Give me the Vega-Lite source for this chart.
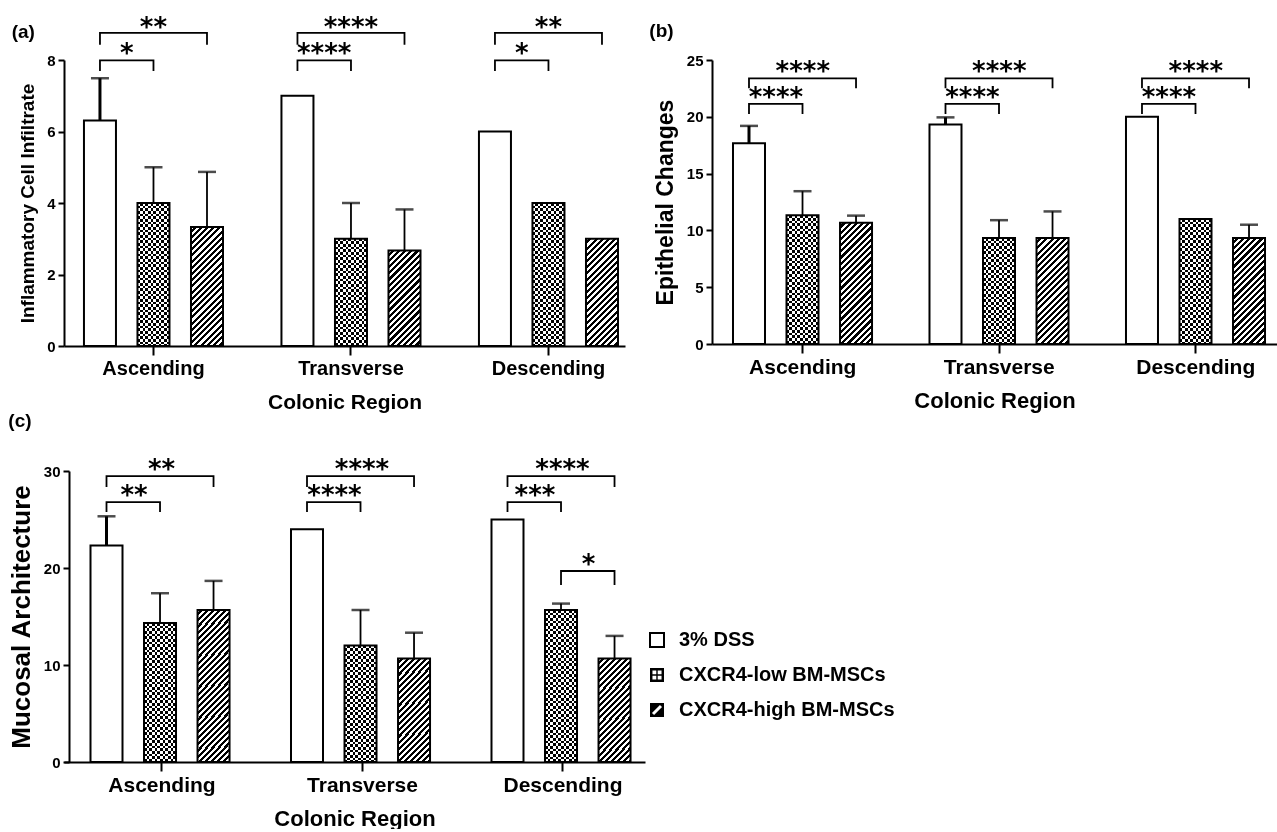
{
  "$schema": "https://vega.github.io/schema/vega-lite/v6.json",
  "padding": {"left": 8, "top": 14, "right": 5, "bottom": 0},
  "background": "white",
  "params": [
    {"name": "hStops", "value": [
      {"offset":0,"color":"#fff"},{"offset":0.016667,"color":"#fff"},{"offset":0.016667,"color":"rgba(255,255,255,0)"},{"offset":0.033333,"color":"rgba(255,255,255,0)"},
      {"offset":0.033333,"color":"#fff"},{"offset":0.05,"color":"#fff"},{"offset":0.05,"color":"rgba(255,255,255,0)"},{"offset":0.066667,"color":"rgba(255,255,255,0)"},
      {"offset":0.066667,"color":"#fff"},{"offset":0.083333,"color":"#fff"},{"offset":0.083333,"color":"rgba(255,255,255,0)"},{"offset":0.1,"color":"rgba(255,255,255,0)"},
      {"offset":0.1,"color":"#fff"},{"offset":0.116667,"color":"#fff"},{"offset":0.116667,"color":"rgba(255,255,255,0)"},{"offset":0.133333,"color":"rgba(255,255,255,0)"},
      {"offset":0.133333,"color":"#fff"},{"offset":0.15,"color":"#fff"},{"offset":0.15,"color":"rgba(255,255,255,0)"},{"offset":0.166667,"color":"rgba(255,255,255,0)"},
      {"offset":0.166667,"color":"#fff"},{"offset":0.183333,"color":"#fff"},{"offset":0.183333,"color":"rgba(255,255,255,0)"},{"offset":0.2,"color":"rgba(255,255,255,0)"},
      {"offset":0.2,"color":"#fff"},{"offset":0.216667,"color":"#fff"},{"offset":0.216667,"color":"rgba(255,255,255,0)"},{"offset":0.233333,"color":"rgba(255,255,255,0)"},
      {"offset":0.233333,"color":"#fff"},{"offset":0.25,"color":"#fff"},{"offset":0.25,"color":"rgba(255,255,255,0)"},{"offset":0.266667,"color":"rgba(255,255,255,0)"},
      {"offset":0.266667,"color":"#fff"},{"offset":0.283333,"color":"#fff"},{"offset":0.283333,"color":"rgba(255,255,255,0)"},{"offset":0.3,"color":"rgba(255,255,255,0)"},
      {"offset":0.3,"color":"#fff"},{"offset":0.316667,"color":"#fff"},{"offset":0.316667,"color":"rgba(255,255,255,0)"},{"offset":0.333333,"color":"rgba(255,255,255,0)"},
      {"offset":0.333333,"color":"#fff"},{"offset":0.35,"color":"#fff"},{"offset":0.35,"color":"rgba(255,255,255,0)"},{"offset":0.366667,"color":"rgba(255,255,255,0)"},
      {"offset":0.366667,"color":"#fff"},{"offset":0.383333,"color":"#fff"},{"offset":0.383333,"color":"rgba(255,255,255,0)"},{"offset":0.4,"color":"rgba(255,255,255,0)"},
      {"offset":0.4,"color":"#fff"},{"offset":0.416667,"color":"#fff"},{"offset":0.416667,"color":"rgba(255,255,255,0)"},{"offset":0.433333,"color":"rgba(255,255,255,0)"},
      {"offset":0.433333,"color":"#fff"},{"offset":0.45,"color":"#fff"},{"offset":0.45,"color":"rgba(255,255,255,0)"},{"offset":0.466667,"color":"rgba(255,255,255,0)"},
      {"offset":0.466667,"color":"#fff"},{"offset":0.483333,"color":"#fff"},{"offset":0.483333,"color":"rgba(255,255,255,0)"},{"offset":0.5,"color":"rgba(255,255,255,0)"},
      {"offset":0.5,"color":"#fff"},{"offset":0.516667,"color":"#fff"},{"offset":0.516667,"color":"rgba(255,255,255,0)"},{"offset":0.533333,"color":"rgba(255,255,255,0)"},
      {"offset":0.533333,"color":"#fff"},{"offset":0.55,"color":"#fff"},{"offset":0.55,"color":"rgba(255,255,255,0)"},{"offset":0.566667,"color":"rgba(255,255,255,0)"},
      {"offset":0.566667,"color":"#fff"},{"offset":0.583333,"color":"#fff"},{"offset":0.583333,"color":"rgba(255,255,255,0)"},{"offset":0.6,"color":"rgba(255,255,255,0)"},
      {"offset":0.6,"color":"#fff"},{"offset":0.616667,"color":"#fff"},{"offset":0.616667,"color":"rgba(255,255,255,0)"},{"offset":0.633333,"color":"rgba(255,255,255,0)"},
      {"offset":0.633333,"color":"#fff"},{"offset":0.65,"color":"#fff"},{"offset":0.65,"color":"rgba(255,255,255,0)"},{"offset":0.666667,"color":"rgba(255,255,255,0)"},
      {"offset":0.666667,"color":"#fff"},{"offset":0.683333,"color":"#fff"},{"offset":0.683333,"color":"rgba(255,255,255,0)"},{"offset":0.7,"color":"rgba(255,255,255,0)"},
      {"offset":0.7,"color":"#fff"},{"offset":0.716667,"color":"#fff"},{"offset":0.716667,"color":"rgba(255,255,255,0)"},{"offset":0.733333,"color":"rgba(255,255,255,0)"},
      {"offset":0.733333,"color":"#fff"},{"offset":0.75,"color":"#fff"},{"offset":0.75,"color":"rgba(255,255,255,0)"},{"offset":0.766667,"color":"rgba(255,255,255,0)"},
      {"offset":0.766667,"color":"#fff"},{"offset":0.783333,"color":"#fff"},{"offset":0.783333,"color":"rgba(255,255,255,0)"},{"offset":0.8,"color":"rgba(255,255,255,0)"},
      {"offset":0.8,"color":"#fff"},{"offset":0.816667,"color":"#fff"},{"offset":0.816667,"color":"rgba(255,255,255,0)"},{"offset":0.833333,"color":"rgba(255,255,255,0)"},
      {"offset":0.833333,"color":"#fff"},{"offset":0.85,"color":"#fff"},{"offset":0.85,"color":"rgba(255,255,255,0)"},{"offset":0.866667,"color":"rgba(255,255,255,0)"},
      {"offset":0.866667,"color":"#fff"},{"offset":0.883333,"color":"#fff"},{"offset":0.883333,"color":"rgba(255,255,255,0)"},{"offset":0.9,"color":"rgba(255,255,255,0)"},
      {"offset":0.9,"color":"#fff"},{"offset":0.916667,"color":"#fff"},{"offset":0.916667,"color":"rgba(255,255,255,0)"},{"offset":0.933333,"color":"rgba(255,255,255,0)"},
      {"offset":0.933333,"color":"#fff"},{"offset":0.95,"color":"#fff"},{"offset":0.95,"color":"rgba(255,255,255,0)"},{"offset":0.966667,"color":"rgba(255,255,255,0)"},
      {"offset":0.966667,"color":"#fff"},{"offset":0.983333,"color":"#fff"},{"offset":0.983333,"color":"rgba(255,255,255,0)"},{"offset":1,"color":"rgba(255,255,255,0)"}
    ]}
  ],
  "datasets": {
    "legend": [{"g":"3% DSS"},{"g":"CXCR4-low BM-MSCs"},{"g":"CXCR4-high BM-MSCs"}],
    "a_bars": [
      {"region":"Ascending","g":"3% DSS","v":6.31,"e":7.49},
      {"region":"Ascending","g":"CXCR4-low BM-MSCs","v":4.0,"e":5.0},
      {"region":"Ascending","g":"CXCR4-high BM-MSCs","v":3.33,"e":4.87},
      {"region":"Transverse","g":"3% DSS","v":7.0,"e":null},
      {"region":"Transverse","g":"CXCR4-low BM-MSCs","v":3.0,"e":4.0},
      {"region":"Transverse","g":"CXCR4-high BM-MSCs","v":2.67,"e":3.82},
      {"region":"Descending","g":"3% DSS","v":6.0,"e":null},
      {"region":"Descending","g":"CXCR4-low BM-MSCs","v":4.0,"e":null},
      {"region":"Descending","g":"CXCR4-high BM-MSCs","v":3.0,"e":null}
    ],
    "a_br": [
      {"id":"A1","region":"Ascending","g":"3% DSS","y":7.69,"s":0},{"id":"A1","region":"Ascending","g":"3% DSS","y":7.99,"s":1},{"id":"A1","region":"Ascending","g":"CXCR4-low BM-MSCs","y":7.99,"s":2},{"id":"A1","region":"Ascending","g":"CXCR4-low BM-MSCs","y":7.69,"s":3},
      {"id":"A2","region":"Ascending","g":"3% DSS","y":8.43,"s":0},{"id":"A2","region":"Ascending","g":"3% DSS","y":8.76,"s":1},{"id":"A2","region":"Ascending","g":"CXCR4-high BM-MSCs","y":8.76,"s":2},{"id":"A2","region":"Ascending","g":"CXCR4-high BM-MSCs","y":8.43,"s":3},
      {"id":"T1","region":"Transverse","g":"3% DSS","y":7.69,"s":0},{"id":"T1","region":"Transverse","g":"3% DSS","y":7.99,"s":1},{"id":"T1","region":"Transverse","g":"CXCR4-low BM-MSCs","y":7.99,"s":2},{"id":"T1","region":"Transverse","g":"CXCR4-low BM-MSCs","y":7.69,"s":3},
      {"id":"T2","region":"Transverse","g":"3% DSS","y":8.43,"s":0},{"id":"T2","region":"Transverse","g":"3% DSS","y":8.76,"s":1},{"id":"T2","region":"Transverse","g":"CXCR4-high BM-MSCs","y":8.76,"s":2},{"id":"T2","region":"Transverse","g":"CXCR4-high BM-MSCs","y":8.43,"s":3},
      {"id":"D1","region":"Descending","g":"3% DSS","y":7.69,"s":0},{"id":"D1","region":"Descending","g":"3% DSS","y":7.99,"s":1},{"id":"D1","region":"Descending","g":"CXCR4-low BM-MSCs","y":7.99,"s":2},{"id":"D1","region":"Descending","g":"CXCR4-low BM-MSCs","y":7.69,"s":3},
      {"id":"D2","region":"Descending","g":"3% DSS","y":8.43,"s":0},{"id":"D2","region":"Descending","g":"3% DSS","y":8.76,"s":1},{"id":"D2","region":"Descending","g":"CXCR4-high BM-MSCs","y":8.76,"s":2},{"id":"D2","region":"Descending","g":"CXCR4-high BM-MSCs","y":8.43,"s":3}
    ],
    "a_tx": [
      {"region":"Ascending","from":"3% DSS","to":"CXCR4-low BM-MSCs","y":8.34,"t":"*"},
      {"region":"Ascending","from":"3% DSS","to":"CXCR4-high BM-MSCs","y":9.09,"t":"**"},
      {"region":"Transverse","from":"3% DSS","to":"CXCR4-low BM-MSCs","y":8.34,"t":"****"},
      {"region":"Transverse","from":"3% DSS","to":"CXCR4-high BM-MSCs","y":9.09,"t":"****"},
      {"region":"Descending","from":"3% DSS","to":"CXCR4-low BM-MSCs","y":8.34,"t":"*"},
      {"region":"Descending","from":"3% DSS","to":"CXCR4-high BM-MSCs","y":9.09,"t":"**"}
    ],
    "b_bars": [
      {"region":"Ascending","g":"3% DSS","v":17.67,"e":19.2},
      {"region":"Ascending","g":"CXCR4-low BM-MSCs","v":11.33,"e":13.45},
      {"region":"Ascending","g":"CXCR4-high BM-MSCs","v":10.67,"e":11.3},
      {"region":"Transverse","g":"3% DSS","v":19.33,"e":19.95},
      {"region":"Transverse","g":"CXCR4-low BM-MSCs","v":9.33,"e":10.9},
      {"region":"Transverse","g":"CXCR4-high BM-MSCs","v":9.33,"e":11.67},
      {"region":"Descending","g":"3% DSS","v":20.0,"e":null},
      {"region":"Descending","g":"CXCR4-low BM-MSCs","v":11.0,"e":null},
      {"region":"Descending","g":"CXCR4-high BM-MSCs","v":9.33,"e":10.5}
    ],
    "b_br": [
      {"id":"A1","region":"Ascending","g":"3% DSS","y":20.25,"s":0},{"id":"A1","region":"Ascending","g":"3% DSS","y":21.13,"s":1},{"id":"A1","region":"Ascending","g":"CXCR4-low BM-MSCs","y":21.13,"s":2},{"id":"A1","region":"Ascending","g":"CXCR4-low BM-MSCs","y":20.25,"s":3},
      {"id":"A2","region":"Ascending","g":"3% DSS","y":22.51,"s":0},{"id":"A2","region":"Ascending","g":"3% DSS","y":23.39,"s":1},{"id":"A2","region":"Ascending","g":"CXCR4-high BM-MSCs","y":23.39,"s":2},{"id":"A2","region":"Ascending","g":"CXCR4-high BM-MSCs","y":22.51,"s":3},
      {"id":"T1","region":"Transverse","g":"3% DSS","y":20.25,"s":0},{"id":"T1","region":"Transverse","g":"3% DSS","y":21.13,"s":1},{"id":"T1","region":"Transverse","g":"CXCR4-low BM-MSCs","y":21.13,"s":2},{"id":"T1","region":"Transverse","g":"CXCR4-low BM-MSCs","y":20.25,"s":3},
      {"id":"T2","region":"Transverse","g":"3% DSS","y":22.51,"s":0},{"id":"T2","region":"Transverse","g":"3% DSS","y":23.39,"s":1},{"id":"T2","region":"Transverse","g":"CXCR4-high BM-MSCs","y":23.39,"s":2},{"id":"T2","region":"Transverse","g":"CXCR4-high BM-MSCs","y":22.51,"s":3},
      {"id":"D1","region":"Descending","g":"3% DSS","y":20.25,"s":0},{"id":"D1","region":"Descending","g":"3% DSS","y":21.13,"s":1},{"id":"D1","region":"Descending","g":"CXCR4-low BM-MSCs","y":21.13,"s":2},{"id":"D1","region":"Descending","g":"CXCR4-low BM-MSCs","y":20.25,"s":3},
      {"id":"D2","region":"Descending","g":"3% DSS","y":22.51,"s":0},{"id":"D2","region":"Descending","g":"3% DSS","y":23.39,"s":1},{"id":"D2","region":"Descending","g":"CXCR4-high BM-MSCs","y":23.39,"s":2},{"id":"D2","region":"Descending","g":"CXCR4-high BM-MSCs","y":22.51,"s":3}
    ],
    "b_tx": [
      {"region":"Ascending","from":"3% DSS","to":"CXCR4-low BM-MSCs","y":22.24,"t":"****"},
      {"region":"Ascending","from":"3% DSS","to":"CXCR4-high BM-MSCs","y":24.5,"t":"****"},
      {"region":"Transverse","from":"3% DSS","to":"CXCR4-low BM-MSCs","y":22.24,"t":"****"},
      {"region":"Transverse","from":"3% DSS","to":"CXCR4-high BM-MSCs","y":24.5,"t":"****"},
      {"region":"Descending","from":"3% DSS","to":"CXCR4-low BM-MSCs","y":22.24,"t":"****"},
      {"region":"Descending","from":"3% DSS","to":"CXCR4-high BM-MSCs","y":24.5,"t":"****"}
    ],
    "c_bars": [
      {"region":"Ascending","g":"3% DSS","v":22.33,"e":25.33},
      {"region":"Ascending","g":"CXCR4-low BM-MSCs","v":14.33,"e":17.4},
      {"region":"Ascending","g":"CXCR4-high BM-MSCs","v":15.67,"e":18.67},
      {"region":"Transverse","g":"3% DSS","v":24.0,"e":null},
      {"region":"Transverse","g":"CXCR4-low BM-MSCs","v":12.0,"e":15.67},
      {"region":"Transverse","g":"CXCR4-high BM-MSCs","v":10.67,"e":13.33},
      {"region":"Descending","g":"3% DSS","v":25.0,"e":null},
      {"region":"Descending","g":"CXCR4-low BM-MSCs","v":15.67,"e":16.33},
      {"region":"Descending","g":"CXCR4-high BM-MSCs","v":10.67,"e":13.0}
    ],
    "c_br": [
      {"id":"A1","region":"Ascending","g":"3% DSS","y":25.77,"s":0},{"id":"A1","region":"Ascending","g":"3% DSS","y":26.8,"s":1},{"id":"A1","region":"Ascending","g":"CXCR4-low BM-MSCs","y":26.8,"s":2},{"id":"A1","region":"Ascending","g":"CXCR4-low BM-MSCs","y":25.77,"s":3},
      {"id":"A2","region":"Ascending","g":"3% DSS","y":28.35,"s":0},{"id":"A2","region":"Ascending","g":"3% DSS","y":29.48,"s":1},{"id":"A2","region":"Ascending","g":"CXCR4-high BM-MSCs","y":29.48,"s":2},{"id":"A2","region":"Ascending","g":"CXCR4-high BM-MSCs","y":28.35,"s":3},
      {"id":"T1","region":"Transverse","g":"3% DSS","y":25.77,"s":0},{"id":"T1","region":"Transverse","g":"3% DSS","y":26.8,"s":1},{"id":"T1","region":"Transverse","g":"CXCR4-low BM-MSCs","y":26.8,"s":2},{"id":"T1","region":"Transverse","g":"CXCR4-low BM-MSCs","y":25.77,"s":3},
      {"id":"T2","region":"Transverse","g":"3% DSS","y":28.35,"s":0},{"id":"T2","region":"Transverse","g":"3% DSS","y":29.48,"s":1},{"id":"T2","region":"Transverse","g":"CXCR4-high BM-MSCs","y":29.48,"s":2},{"id":"T2","region":"Transverse","g":"CXCR4-high BM-MSCs","y":28.35,"s":3},
      {"id":"D1","region":"Descending","g":"3% DSS","y":25.77,"s":0},{"id":"D1","region":"Descending","g":"3% DSS","y":26.8,"s":1},{"id":"D1","region":"Descending","g":"CXCR4-low BM-MSCs","y":26.8,"s":2},{"id":"D1","region":"Descending","g":"CXCR4-low BM-MSCs","y":25.77,"s":3},
      {"id":"D2","region":"Descending","g":"3% DSS","y":28.35,"s":0},{"id":"D2","region":"Descending","g":"3% DSS","y":29.48,"s":1},{"id":"D2","region":"Descending","g":"CXCR4-high BM-MSCs","y":29.48,"s":2},{"id":"D2","region":"Descending","g":"CXCR4-high BM-MSCs","y":28.35,"s":3},
      {"id":"D3","region":"Descending","g":"CXCR4-low BM-MSCs","y":18.25,"s":0},{"id":"D3","region":"Descending","g":"CXCR4-low BM-MSCs","y":19.69,"s":1},{"id":"D3","region":"Descending","g":"CXCR4-high BM-MSCs","y":19.69,"s":2},{"id":"D3","region":"Descending","g":"CXCR4-high BM-MSCs","y":18.25,"s":3}
    ],
    "c_tx": [
      {"region":"Ascending","from":"3% DSS","to":"CXCR4-low BM-MSCs","y":28.14,"t":"**"},
      {"region":"Ascending","from":"3% DSS","to":"CXCR4-high BM-MSCs","y":30.77,"t":"**"},
      {"region":"Transverse","from":"3% DSS","to":"CXCR4-low BM-MSCs","y":28.14,"t":"****"},
      {"region":"Transverse","from":"3% DSS","to":"CXCR4-high BM-MSCs","y":30.77,"t":"****"},
      {"region":"Descending","from":"3% DSS","to":"CXCR4-low BM-MSCs","y":28.14,"t":"***"},
      {"region":"Descending","from":"3% DSS","to":"CXCR4-high BM-MSCs","y":30.77,"t":"****"},
      {"region":"Descending","from":"CXCR4-low BM-MSCs","to":"CXCR4-high BM-MSCs","y":21.03,"t":"*"}
    ]
  },
  "config": {
    "font": "Liberation Sans",
    "view": {"stroke": null},
    "title": {"fontSize": 19, "fontWeight": "bold", "anchor": "start", "frame": "bounds", "color": "black", "offset": 12},
    "axis": {"domainColor": "black", "domainWidth": 2, "tickColor": "black", "tickWidth": 2, "labelColor": "black", "titleColor": "black", "labelFontWeight": "bold", "titleFontWeight": "bold", "grid": false},
    "axisX": {"labelAngle": 0, "tickSize": 9, "labelPadding": 3, "labelFontSize": 20, "titleFontSize": 21, "titlePadding": 13},
    "axisY": {"tickSize": 6, "labelPadding": 3, "labelFontSize": 15, "titlePadding": 9}
  },
  "spacing": 0,
  "vconcat": [
    {
      "spacing": 87,
      "bounds": "flush",
      "hconcat": [
        {
          "title": {"text": "(a)", "dy": 39, "dx": -7},
          "width": 561,
          "height": 286,
          "encoding": {
            "x": {"field": "region", "type": "nominal", "sort": ["Ascending","Transverse","Descending"], "title": "Colonic Region", "scale": {"paddingInner": 0.296, "paddingOuter": 0.0683, "align": 0.74}},
            "xOffset": {"field": "g", "type": "nominal", "scale": {"domain": ["3% DSS","CXCR4-low BM-MSCs","CXCR4-high BM-MSCs"], "paddingInner": 0.402, "paddingOuter": 0}}
          },
          "layer": [
            {"data": {"name": "a_bars"}, "transform": [{"filter": "datum.g === '3% DSS'"}], "mark": {"type": "bar", "fill": "white"},
             "encoding": {"y": {"field": "v", "type": "quantitative", "title": "Inflammatory Cell Infiltrate", "scale": {"domain": [0, 8], "nice": false}, "axis": {"values": [0,2,4,6,8], "titleFontSize": 19}}}},
            {"data": {"name": "a_bars"}, "transform": [{"filter": "datum.g === 'CXCR4-low BM-MSCs'"}],
             "mark": {"type": "bar", "fill": {"gradient": "linear", "x1": 0, "y1": 0, "x2": 1, "y2": 0, "stops": [
               {"offset":0,"color":"#000"},{"offset":0.083333,"color":"#000"},{"offset":0.083333,"color":"#fff"},{"offset":0.166667,"color":"#fff"},
               {"offset":0.166667,"color":"#000"},{"offset":0.25,"color":"#000"},{"offset":0.25,"color":"#fff"},{"offset":0.333333,"color":"#fff"},
               {"offset":0.333333,"color":"#000"},{"offset":0.416667,"color":"#000"},{"offset":0.416667,"color":"#fff"},{"offset":0.5,"color":"#fff"},
               {"offset":0.5,"color":"#000"},{"offset":0.583333,"color":"#000"},{"offset":0.583333,"color":"#fff"},{"offset":0.666667,"color":"#fff"},
               {"offset":0.666667,"color":"#000"},{"offset":0.75,"color":"#000"},{"offset":0.75,"color":"#fff"},{"offset":0.833333,"color":"#fff"},
               {"offset":0.833333,"color":"#000"},{"offset":0.916667,"color":"#000"},{"offset":0.916667,"color":"#fff"},{"offset":1,"color":"#fff"}]}},
             "encoding": {"y": {"field": "v", "type": "quantitative", "title": "Inflammatory Cell Infiltrate"}}},
            {"data": {"name": "a_bars"}, "transform": [{"filter": "datum.g === 'CXCR4-low BM-MSCs'"}],
             "mark": {"type": "bar", "blend": "difference", "fill": {"expr": "{gradient: 'linear', x1: 0, y1: 0, x2: 0, y2: 160 / (datum.v * 35.75), stops: hStops}"}},
             "encoding": {"y": {"field": "v", "type": "quantitative", "title": "Inflammatory Cell Infiltrate"}}},
            {"data": {"name": "a_bars"}, "transform": [{"filter": "datum.g === 'CXCR4-high BM-MSCs'"}], "mark": {"type": "bar", "fill": "black"},
             "encoding": {"y": {"field": "v", "type": "quantitative", "title": "Inflammatory Cell Infiltrate"}}},
            {"data": {"name": "a_bars"}, "transform": [{"filter": "datum.g === 'CXCR4-high BM-MSCs'"}],
             "mark": {"type": "bar", "fill": {"expr": "{gradient: 'linear', x1: 0, y1: 0, x2: 186 * 32 / (1024 + pow(datum.v * 35.75, 2)), y2: 186 * datum.v * 35.75 / (1024 + pow(datum.v * 35.75, 2)), stops: hStops}"}},
             "encoding": {"y": {"field": "v", "type": "quantitative", "title": "Inflammatory Cell Infiltrate"}}},
            {"data": {"name": "a_bars"}, "mark": {"type": "bar", "fill": "transparent", "stroke": "black", "strokeWidth": 2},
             "encoding": {"y": {"field": "v", "type": "quantitative", "title": "Inflammatory Cell Infiltrate"}}},
            {"data": {"name": "a_bars"}, "transform": [{"filter": "isValid(datum.e)"}],
             "mark": {"type": "rule", "color": "black", "strokeWidth": {"expr": "datum.g === '3% DSS' ? 3 : 1.8"}},
             "encoding": {"y": {"field": "v", "type": "quantitative", "title": "Inflammatory Cell Infiltrate"}, "y2": {"field": "e"}}},
            {"data": {"name": "a_bars"}, "transform": [{"filter": "isValid(datum.e)"}],
             "mark": {"type": "tick", "color": "black", "size": 18, "thickness": 2.5, "orient": "horizontal"},
             "encoding": {"y": {"field": "e", "type": "quantitative", "title": "Inflammatory Cell Infiltrate"}}},
            {"data": {"name": "a_br"}, "mark": {"type": "line", "color": "black", "strokeWidth": 1.8},
             "encoding": {"y": {"field": "y", "type": "quantitative", "title": "Inflammatory Cell Infiltrate"}, "detail": {"field": "id"}, "order": {"field": "s"}}},
            {"data": {"name": "a_tx"},
             "mark": {"type": "text", "font": "DejaVu Sans", "fontWeight": "bold", "fontSize": 26, "baseline": "alphabetic", "dy": 14.5, "color": "black",
                      "dx": {"expr": "(indexof(['3% DSS','CXCR4-low BM-MSCs','CXCR4-high BM-MSCs'], datum.to) - indexof(['3% DSS','CXCR4-low BM-MSCs','CXCR4-high BM-MSCs'], datum.from)) * 26.75"}},
             "encoding": {"xOffset": {"field": "from", "type": "nominal"}, "y": {"field": "y", "type": "quantitative", "title": "Inflammatory Cell Infiltrate"}, "text": {"field": "t"}}}
          ]
        },
        {
          "title": {"text": "(b)", "dy": 0, "dx": -5},
          "width": 565,
          "height": 284,
          "encoding": {
            "x": {"field": "region", "type": "nominal", "sort": ["Ascending","Transverse","Descending"], "title": "Colonic Region", "scale": {"paddingInner": 0.29, "paddingOuter": 0.0827, "align": 0.646}, "axis": {"labelFontSize": 21, "titleFontSize": 22}},
            "xOffset": {"field": "g", "type": "nominal", "scale": {"domain": ["3% DSS","CXCR4-low BM-MSCs","CXCR4-high BM-MSCs"], "paddingInner": 0.4047, "paddingOuter": 0}}
          },
          "layer": [
            {"data": {"name": "b_bars"}, "transform": [{"filter": "datum.g === '3% DSS'"}], "mark": {"type": "bar", "fill": "white"},
             "encoding": {"y": {"field": "v", "type": "quantitative", "title": "Epithelial Changes", "scale": {"domain": [0, 25], "nice": false}, "axis": {"values": [0,5,10,15,20,25], "titleFontSize": 23}}}},
            {"data": {"name": "b_bars"}, "transform": [{"filter": "datum.g === 'CXCR4-low BM-MSCs'"}],
             "mark": {"type": "bar", "fill": {"gradient": "linear", "x1": 0, "y1": 0, "x2": 1, "y2": 0, "stops": [
               {"offset":0,"color":"#000"},{"offset":0.083333,"color":"#000"},{"offset":0.083333,"color":"#fff"},{"offset":0.166667,"color":"#fff"},
               {"offset":0.166667,"color":"#000"},{"offset":0.25,"color":"#000"},{"offset":0.25,"color":"#fff"},{"offset":0.333333,"color":"#fff"},
               {"offset":0.333333,"color":"#000"},{"offset":0.416667,"color":"#000"},{"offset":0.416667,"color":"#fff"},{"offset":0.5,"color":"#fff"},
               {"offset":0.5,"color":"#000"},{"offset":0.583333,"color":"#000"},{"offset":0.583333,"color":"#fff"},{"offset":0.666667,"color":"#fff"},
               {"offset":0.666667,"color":"#000"},{"offset":0.75,"color":"#000"},{"offset":0.75,"color":"#fff"},{"offset":0.833333,"color":"#fff"},
               {"offset":0.833333,"color":"#000"},{"offset":0.916667,"color":"#000"},{"offset":0.916667,"color":"#fff"},{"offset":1,"color":"#fff"}]}},
             "encoding": {"y": {"field": "v", "type": "quantitative", "title": "Epithelial Changes"}}},
            {"data": {"name": "b_bars"}, "transform": [{"filter": "datum.g === 'CXCR4-low BM-MSCs'"}],
             "mark": {"type": "bar", "blend": "difference", "fill": {"expr": "{gradient: 'linear', x1: 0, y1: 0, x2: 0, y2: 160 / (datum.v * 11.36), stops: hStops}"}},
             "encoding": {"y": {"field": "v", "type": "quantitative", "title": "Epithelial Changes"}}},
            {"data": {"name": "b_bars"}, "transform": [{"filter": "datum.g === 'CXCR4-high BM-MSCs'"}], "mark": {"type": "bar", "fill": "black"},
             "encoding": {"y": {"field": "v", "type": "quantitative", "title": "Epithelial Changes"}}},
            {"data": {"name": "b_bars"}, "transform": [{"filter": "datum.g === 'CXCR4-high BM-MSCs'"}],
             "mark": {"type": "bar", "fill": {"expr": "{gradient: 'linear', x1: 0, y1: 0, x2: 186 * 32 / (1024 + pow(datum.v * 11.36, 2)), y2: 186 * datum.v * 11.36 / (1024 + pow(datum.v * 11.36, 2)), stops: hStops}"}},
             "encoding": {"y": {"field": "v", "type": "quantitative", "title": "Epithelial Changes"}}},
            {"data": {"name": "b_bars"}, "mark": {"type": "bar", "fill": "transparent", "stroke": "black", "strokeWidth": 2},
             "encoding": {"y": {"field": "v", "type": "quantitative", "title": "Epithelial Changes"}}},
            {"data": {"name": "b_bars"}, "transform": [{"filter": "isValid(datum.e)"}],
             "mark": {"type": "rule", "color": "black", "strokeWidth": {"expr": "datum.g === '3% DSS' ? 3 : 1.8"}},
             "encoding": {"y": {"field": "v", "type": "quantitative", "title": "Epithelial Changes"}, "y2": {"field": "e"}}},
            {"data": {"name": "b_bars"}, "transform": [{"filter": "isValid(datum.e)"}],
             "mark": {"type": "tick", "color": "black", "size": 18, "thickness": 2.5, "orient": "horizontal"},
             "encoding": {"y": {"field": "e", "type": "quantitative", "title": "Epithelial Changes"}}},
            {"data": {"name": "b_br"}, "mark": {"type": "line", "color": "black", "strokeWidth": 1.8},
             "encoding": {"y": {"field": "y", "type": "quantitative", "title": "Epithelial Changes"}, "detail": {"field": "id"}, "order": {"field": "s"}}},
            {"data": {"name": "b_tx"},
             "mark": {"type": "text", "font": "DejaVu Sans", "fontWeight": "bold", "fontSize": 26, "baseline": "alphabetic", "dy": 14.5, "color": "black",
                      "dx": {"expr": "(indexof(['3% DSS','CXCR4-low BM-MSCs','CXCR4-high BM-MSCs'], datum.to) - indexof(['3% DSS','CXCR4-low BM-MSCs','CXCR4-high BM-MSCs'], datum.from)) * 26.9"}},
             "encoding": {"xOffset": {"field": "from", "type": "nominal"}, "y": {"field": "y", "type": "quantitative", "title": "Epithelial Changes"}, "text": {"field": "t"}}}
          ]
        }
      ]
    },
    {
      "spacing": 5,
      "bounds": "flush",
      "hconcat": [
        {
          "title": {"text": "(c)", "dy": -14},
          "width": 581,
          "height": 291,
          "encoding": {
            "x": {"field": "region", "type": "nominal", "sort": ["Ascending","Transverse","Descending"], "title": "Colonic Region", "scale": {"paddingInner": 0.2868, "paddingOuter": 0.0923, "align": 0.716}, "axis": {"labelFontSize": 21, "titleFontSize": 22}},
            "xOffset": {"field": "g", "type": "nominal", "scale": {"domain": ["3% DSS","CXCR4-low BM-MSCs","CXCR4-high BM-MSCs"], "paddingInner": 0.4, "paddingOuter": 0}}
          },
          "layer": [
            {"data": {"name": "c_bars"}, "transform": [{"filter": "datum.g === '3% DSS'"}], "mark": {"type": "bar", "fill": "white"},
             "encoding": {"y": {"field": "v", "type": "quantitative", "title": "Mucosal Architecture", "scale": {"domain": [0, 30], "nice": false}, "axis": {"values": [0,10,20,30], "titleFontSize": 26, "offset": -5}}}},
            {"data": {"name": "c_bars"}, "transform": [{"filter": "datum.g === 'CXCR4-low BM-MSCs'"}],
             "mark": {"type": "bar", "fill": {"gradient": "linear", "x1": 0, "y1": 0, "x2": 1, "y2": 0, "stops": [
               {"offset":0,"color":"#000"},{"offset":0.083333,"color":"#000"},{"offset":0.083333,"color":"#fff"},{"offset":0.166667,"color":"#fff"},
               {"offset":0.166667,"color":"#000"},{"offset":0.25,"color":"#000"},{"offset":0.25,"color":"#fff"},{"offset":0.333333,"color":"#fff"},
               {"offset":0.333333,"color":"#000"},{"offset":0.416667,"color":"#000"},{"offset":0.416667,"color":"#fff"},{"offset":0.5,"color":"#fff"},
               {"offset":0.5,"color":"#000"},{"offset":0.583333,"color":"#000"},{"offset":0.583333,"color":"#fff"},{"offset":0.666667,"color":"#fff"},
               {"offset":0.666667,"color":"#000"},{"offset":0.75,"color":"#000"},{"offset":0.75,"color":"#fff"},{"offset":0.833333,"color":"#fff"},
               {"offset":0.833333,"color":"#000"},{"offset":0.916667,"color":"#000"},{"offset":0.916667,"color":"#fff"},{"offset":1,"color":"#fff"}]}},
             "encoding": {"y": {"field": "v", "type": "quantitative", "title": "Mucosal Architecture"}}},
            {"data": {"name": "c_bars"}, "transform": [{"filter": "datum.g === 'CXCR4-low BM-MSCs'"}],
             "mark": {"type": "bar", "blend": "difference", "fill": {"expr": "{gradient: 'linear', x1: 0, y1: 0, x2: 0, y2: 160 / (datum.v * 9.7), stops: hStops}"}},
             "encoding": {"y": {"field": "v", "type": "quantitative", "title": "Mucosal Architecture"}}},
            {"data": {"name": "c_bars"}, "transform": [{"filter": "datum.g === 'CXCR4-high BM-MSCs'"}], "mark": {"type": "bar", "fill": "black"},
             "encoding": {"y": {"field": "v", "type": "quantitative", "title": "Mucosal Architecture"}}},
            {"data": {"name": "c_bars"}, "transform": [{"filter": "datum.g === 'CXCR4-high BM-MSCs'"}],
             "mark": {"type": "bar", "fill": {"expr": "{gradient: 'linear', x1: 0, y1: 0, x2: 186 * 33 / (1089 + pow(datum.v * 9.7, 2)), y2: 186 * datum.v * 9.7 / (1089 + pow(datum.v * 9.7, 2)), stops: hStops}"}},
             "encoding": {"y": {"field": "v", "type": "quantitative", "title": "Mucosal Architecture"}}},
            {"data": {"name": "c_bars"}, "mark": {"type": "bar", "fill": "transparent", "stroke": "black", "strokeWidth": 2},
             "encoding": {"y": {"field": "v", "type": "quantitative", "title": "Mucosal Architecture"}}},
            {"data": {"name": "c_bars"}, "transform": [{"filter": "isValid(datum.e)"}],
             "mark": {"type": "rule", "color": "black", "strokeWidth": {"expr": "datum.g === '3% DSS' ? 3 : 1.8"}},
             "encoding": {"y": {"field": "v", "type": "quantitative", "title": "Mucosal Architecture"}, "y2": {"field": "e"}}},
            {"data": {"name": "c_bars"}, "transform": [{"filter": "isValid(datum.e)"}],
             "mark": {"type": "tick", "color": "black", "size": 18, "thickness": 2.5, "orient": "horizontal"},
             "encoding": {"y": {"field": "e", "type": "quantitative", "title": "Mucosal Architecture"}}},
            {"data": {"name": "c_br"}, "mark": {"type": "line", "color": "black", "strokeWidth": 1.8},
             "encoding": {"y": {"field": "y", "type": "quantitative", "title": "Mucosal Architecture"}, "detail": {"field": "id"}, "order": {"field": "s"}}},
            {"data": {"name": "c_tx"},
             "mark": {"type": "text", "font": "DejaVu Sans", "fontWeight": "bold", "fontSize": 26, "baseline": "alphabetic", "dy": 14.5, "color": "black",
                      "dx": {"expr": "(indexof(['3% DSS','CXCR4-low BM-MSCs','CXCR4-high BM-MSCs'], datum.to) - indexof(['3% DSS','CXCR4-low BM-MSCs','CXCR4-high BM-MSCs'], datum.from)) * 27.5"}},
             "encoding": {"xOffset": {"field": "from", "type": "nominal"}, "y": {"field": "y", "type": "quantitative", "title": "Mucosal Architecture"}, "text": {"field": "t"}}}
          ]
        },
        {
          "width": 14,
          "height": 105,
          "data": {"name": "legend"},
          "encoding": {
            "y": {"field": "g", "type": "nominal", "sort": ["3% DSS","CXCR4-low BM-MSCs","CXCR4-high BM-MSCs"], "axis": null, "scale": {"type": "point", "padding": 0.5}}
          },
          "layer": [
            {"mark": {"type": "point", "filled": true, "size": 196, "opacity": 1, "stroke": "black", "yOffset": 151.5},
             "encoding": {
               "shape": {"field": "g", "type": "nominal", "legend": null,
                 "scale": {"domain": ["3% DSS","CXCR4-low BM-MSCs","CXCR4-high BM-MSCs"], "range": ["square", "M-1,-1H1V1H-1Z M-0.65,-0.65V-0.1H-0.1V-0.65Z M0.1,-0.65V-0.1H0.65V-0.65Z M-0.65,0.1V0.65H-0.1V0.1Z M0.1,0.1V0.65H0.65V0.1Z", "M-1,-1H1V1H-1Z M-0.72,0.42L-0.42,0.72L0.72,-0.42L0.42,-0.72Z"]}},
               "fill": {"condition": {"test": "datum.g === '3% DSS'", "value": "white"}, "value": "black"},
               "strokeWidth": {"condition": {"test": "datum.g === '3% DSS'", "value": 2}, "value": 0}
             }},
            {"mark": {"type": "text", "align": "left", "baseline": "middle", "dx": 22, "yOffset": 151.5, "font": "Liberation Sans", "fontSize": 20, "fontWeight": "bold", "color": "black"},
             "encoding": {"text": {"field": "g"}}}
          ]
        }
      ]
    }
  ]
}
